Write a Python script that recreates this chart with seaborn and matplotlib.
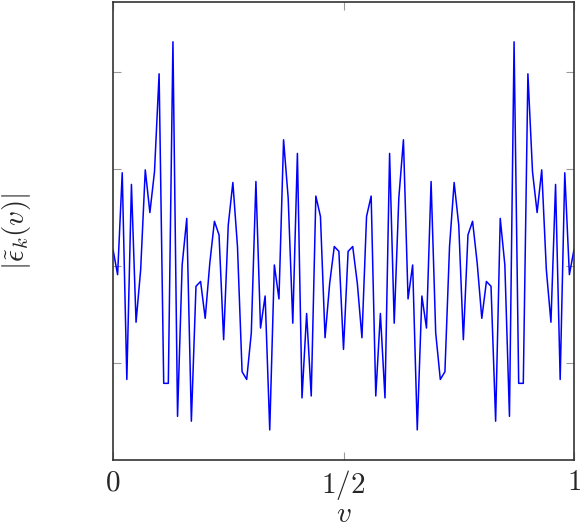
import numpy as np
import pandas as pd
import seaborn as sns
import matplotlib
matplotlib.use('Agg')
import matplotlib.pyplot as plt

# sample points v = 0, 0.01, ..., 1
v = np.linspace(0, 1, 101)

# |eps_k(v)| (arbitrary units)
eps = [2.17, 1.91, 2.96, 0.83, 2.84, 1.42, 1.96, 2.99, 2.55, 2.97,
       3.98, 0.79, 0.79, 4.31, 0.45, 2.01, 2.49, 0.40, 1.79, 1.84,
       1.46, 2.03, 2.46, 2.32, 1.24, 2.42, 2.86, 2.20, 0.91, 0.83,
       1.31, 2.87, 1.36, 1.69, 0.31, 2.01, 1.66, 3.30, 2.70, 1.41,
       3.16, 0.64, 1.51, 0.66, 2.72, 2.51, 1.26, 1.82, 2.20, 2.15,
       1.14,
       2.15, 2.20, 1.82, 1.26, 2.51, 2.72, 0.66, 1.51, 0.64, 3.16,
       1.41, 2.70, 3.30, 1.66, 2.01, 0.31, 1.69, 1.36, 2.87, 1.31,
       0.83, 0.91, 2.20, 2.86, 2.42, 1.24, 2.32, 2.46, 2.03, 1.46,
       1.84, 1.79, 0.40, 2.49, 2.01, 0.45, 4.31, 0.79, 0.79, 3.98,
       2.97, 2.55, 2.99, 1.96, 1.42, 2.84, 0.83, 2.96, 1.91, 2.17]

xticks = [0, 0.5, 1]
xticklabels = ['$0$', '$1/2$', '$1$']
yticks = [1, 2, 3, 4]

df = pd.DataFrame({'v': v, 'eps': eps})

sns.set_style('white')
plt.rcParams['mathtext.fontset'] = 'cm'
plt.rcParams['font.family'] = ['DejaVu Serif']

fig = plt.figure(figsize=(5.8, 5.28), dpi=100)
ax = fig.add_axes([113 / 580, 68 / 528, 461 / 580, 458 / 528])

sns.lineplot(data=df, x='v', y='eps', color='#0000ff', linewidth=1.1, ax=ax)

ax.set_xlim(0, 1)
ax.set_ylim(0.0, 4.72)
ax.set_xticks(xticks)
ax.set_xticklabels(xticklabels, fontsize=21)
ax.set_yticks(yticks)
ax.set_yticklabels([])

# pgfplots-like inward ticks on all sides
ax.tick_params(direction='in', length=6, width=0.8, color='#999999',
               top=True, right=True, bottom=True, left=True, pad=6)
for s in ax.spines.values():
    s.set_color('#333333')
    s.set_linewidth(1.2)

ax.set_xlabel('$v$', fontsize=21, labelpad=-2)
ax.set_ylabel(r'$|\tilde{\epsilon}_k(v)|$', fontsize=21)
ax.yaxis.set_label_coords(-0.1735, 0.5)

fig.savefig('out.png', dpi=100)
